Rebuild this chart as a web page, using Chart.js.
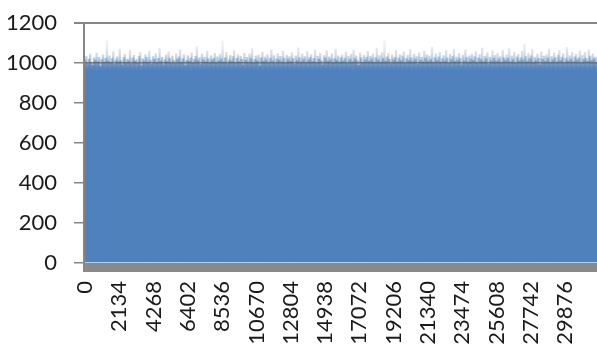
<!DOCTYPE html>
<html>
<head>
<meta charset="utf-8">
<script src="https://cdn.jsdelivr.net/npm/chart.js@4.4.1/dist/chart.umd.min.js"></script>
<style>
  body { margin: 0; background: #fff; overflow: hidden; }
  #wrap { width: 597px; height: 349px; }
</style>
</head>
<body>
<div id="wrap"><canvas id="myChart" width="597" height="349"></canvas></div>
<script>
// category labels shown on the x axis
var xTicks = [0, 2134, 4268, 6402, 8536, 10670, 12804, 14938, 17072, 19206, 21340, 23474, 25608, 27742, 29876];
var yTicks = [0, 200, 400, 600, 800, 1000, 1200];
// one value read every 80 categories
var sampleStep = 80;
var values = [
  1012, 1035, 998, 1021, 1047, 1003, 990, 1028, 1015, 1052, 1008, 1031, 985, 1019, 1042, 1006, 1026, 1118, 1011, 1038,
  1002, 1024, 1058, 995, 1017, 1033, 1009, 1071, 1014, 992, 1029, 1045, 1004, 1022, 1013, 1066, 997, 1027, 1040, 1010,
  1019, 1001, 1036, 1054, 988, 1023, 1011, 1043, 1030, 1007, 1062, 1016, 996, 1034, 1020, 1049, 1005, 1025, 1075, 1012,
  1030, 993, 1018, 1041, 1009, 1057, 1026, 1003, 1037, 1014, 999, 1048, 1021, 1032, 1068, 1006, 1024, 1044, 989, 1015,
  1039, 1010, 1027, 1053, 1000, 1019, 1035, 1082, 1013, 1028, 994, 1046, 1017, 1031, 1008, 1060, 1023, 1004, 1038, 1016,
  1025, 1050, 1002, 1033, 1012, 1044, 1021, 1112, 1007, 1029, 1055, 997, 1018, 1040, 1011, 1034, 1064, 1001, 1026, 1043,
  1009, 1036, 1020, 991, 1051, 1015, 1030, 1006, 1047, 1024, 1073, 1003, 1019, 1037, 1013, 1042, 987, 1028, 1056, 1010,
  1032, 1018, 1045, 1005, 1026, 1069, 1012, 1039, 998, 1022, 1049, 1016, 1035, 1008, 1061, 1027, 1002, 1041, 1019, 1033,
  1011, 1053, 1024, 996, 1038, 1014, 1078, 1029, 1007, 1046, 1020, 1034, 1001, 1059, 1017, 1030, 1044, 1009, 1025, 1067,
  1004, 1036, 1021, 1050, 1013, 992, 1040, 1027, 1063, 1010, 1032, 1018, 1048, 1003, 1024, 1071, 1015, 1037, 1006, 1029,
  1043, 1012, 1026, 1057, 999, 1034, 1019, 1045, 1008, 1065, 1023, 1038, 1014, 990, 1052, 1028, 1005, 1041, 1017, 1031,
  1060, 1010, 1035, 1022, 1047, 1003, 1029, 1076, 1016, 1039, 1007, 1054, 1025, 1115, 1011, 1033, 1049, 1020, 998, 1042,
  1018, 1030, 1066, 1006, 1027, 1044, 1013, 1037, 1058, 1002, 1024, 1040, 1015, 1070, 1028, 1009, 1046, 1021, 1034, 995,
  1052, 1016, 1031, 1008, 1062, 1026, 1043, 1011, 1036, 1019, 1081, 1004, 1029, 1048, 1014, 1033, 1055, 1007, 1023, 1039,
  1012, 1064, 1027, 1000, 1045, 1020, 1035, 1072, 1010, 1032, 1017, 1050, 1025, 993, 1041, 1013, 1068, 1030, 1006, 1038,
  1022, 1047, 1015, 1034, 1059, 1003, 1028, 1044, 1018, 1077, 1009, 1036, 1024, 1053, 997, 1031, 1014, 1063, 1026, 1040,
  1011, 1049, 1021, 1033, 1005, 1066, 1029, 1016, 1042, 1025, 1074, 1008, 1037, 1019, 1056, 1002, 1032, 1045, 1013, 1028,
  1061, 1017, 1096, 1035, 1009, 1050, 1023, 1039, 1069, 1006, 1030, 1014, 1047, 1026, 992, 1058, 1020, 1036, 1011, 1043,
  1027, 1072, 1004, 1034, 1018, 1052, 1029, 1007, 1041, 1065, 1015, 1031, 1048, 1001, 1024, 1079, 1012, 1038, 1021, 1055,
  1008, 1033, 1046, 1017, 1028, 1062, 1003, 1040, 1019, 1054, 1025, 1010, 1068, 1036, 1014, 1047, 1022, 1031, 1005, 1039
];

var points = values.map(function (v, i) { return { x: i * sampleStep, y: v }; });

// fuzzy top of the dense bars: solid below ~965, fading above
var gradCache = null;
function barFill(ctx) {
  var chart = ctx.chart;
  var area = chart.chartArea;
  if (!area) return '#4f81bd';
  var y = chart.scales.y;
  var top = y.getPixelForValue(1120), bot = y.getPixelForValue(960);
  if (gradCache && gradCache.top === top && gradCache.bot === bot) return gradCache.g;
  var g = chart.ctx.createLinearGradient(0, top, 0, bot);
  g.addColorStop(0, 'rgba(79,129,189,0.06)');
  g.addColorStop(0.25, 'rgba(79,129,189,0.14)');
  g.addColorStop(0.5, 'rgba(79,129,189,0.28)');
  g.addColorStop(0.75, 'rgba(79,129,189,0.6)');
  g.addColorStop(1, 'rgba(79,129,189,1)');
  gradCache = { top: top, bot: bot, g: g };
  return g;
}

// grey floor under the plot
var floorPlugin = {
  id: 'floor',
  afterDatasetsDraw: function (chart) {
    var a = chart.chartArea, c = chart.ctx;
    c.save();
    c.fillStyle = '#898989';
    c.fillRect(a.left - 1, a.bottom, a.right - a.left + 1, 9);
    c.restore();
  }
};

var ctx = document.getElementById('myChart').getContext('2d');
var chart = new Chart(ctx, {
  type: 'bar',
  data: {
    datasets: [{
      label: '',
      data: points,
      backgroundColor: barFill,
      borderWidth: 0,
      barPercentage: 1.85,
      categoryPercentage: 1
    }]
  },
  options: {
    responsive: false,
    animation: false,
    devicePixelRatio: 1,
    layout: { padding: { top: 23, right: 0, left: 0, bottom: 0 } },
    plugins: { legend: { display: false }, tooltip: { enabled: false } },
    scales: {
      x: {
        type: 'linear',
        min: -62,
        max: 31867,
        offset: false,
        grid: { display: false, offset: false, drawTicks: false },
        border: { display: false },
        afterBuildTicks: function (s) { s.ticks = xTicks.map(function (v) { return { value: v }; }); },
        afterFit: function (s) { s.height = 86; s.paddingLeft = 0; s.paddingRight = 0; },
        ticks: {
          autoSkip: false,
          minRotation: 90,
          maxRotation: 90,
          padding: 18,
          color: '#1a1a1a',
          font: { family: 'Lato', size: 22 },
          callback: function (v) { return String(v); }
        }
      },
      y: {
        min: 0,
        max: 1200,
        afterBuildTicks: function (s) { s.ticks = yTicks.map(function (v) { return { value: v }; }); },
        afterFit: function (s) { s.width = 84; s.paddingTop = 0; s.paddingBottom = 0; },
        grid: {
          z: 1,
          tickLength: 10,
          tickColor: '#868686',
          color: function (c) {
            if (c.tick && c.tick.value === 1000) return 'rgba(95,95,95,0.75)';
            if (c.tick && c.tick.value === 1200) return '#868686';
            return 'rgba(0,0,0,0)';
          },
          lineWidth: function (c) { return c.tick && c.tick.value === 1200 ? 2 : 1.5; }
        },
        border: { display: true, color: '#868686', width: 2, z: 1 },
        ticks: {
          padding: 17,
          color: '#1a1a1a',
          font: { family: 'Lato', size: 22 },
          callback: function (v) { return String(v); }
        }
      }
    }
  },
  plugins: [floorPlugin]
});
</script>
</body>
</html>
